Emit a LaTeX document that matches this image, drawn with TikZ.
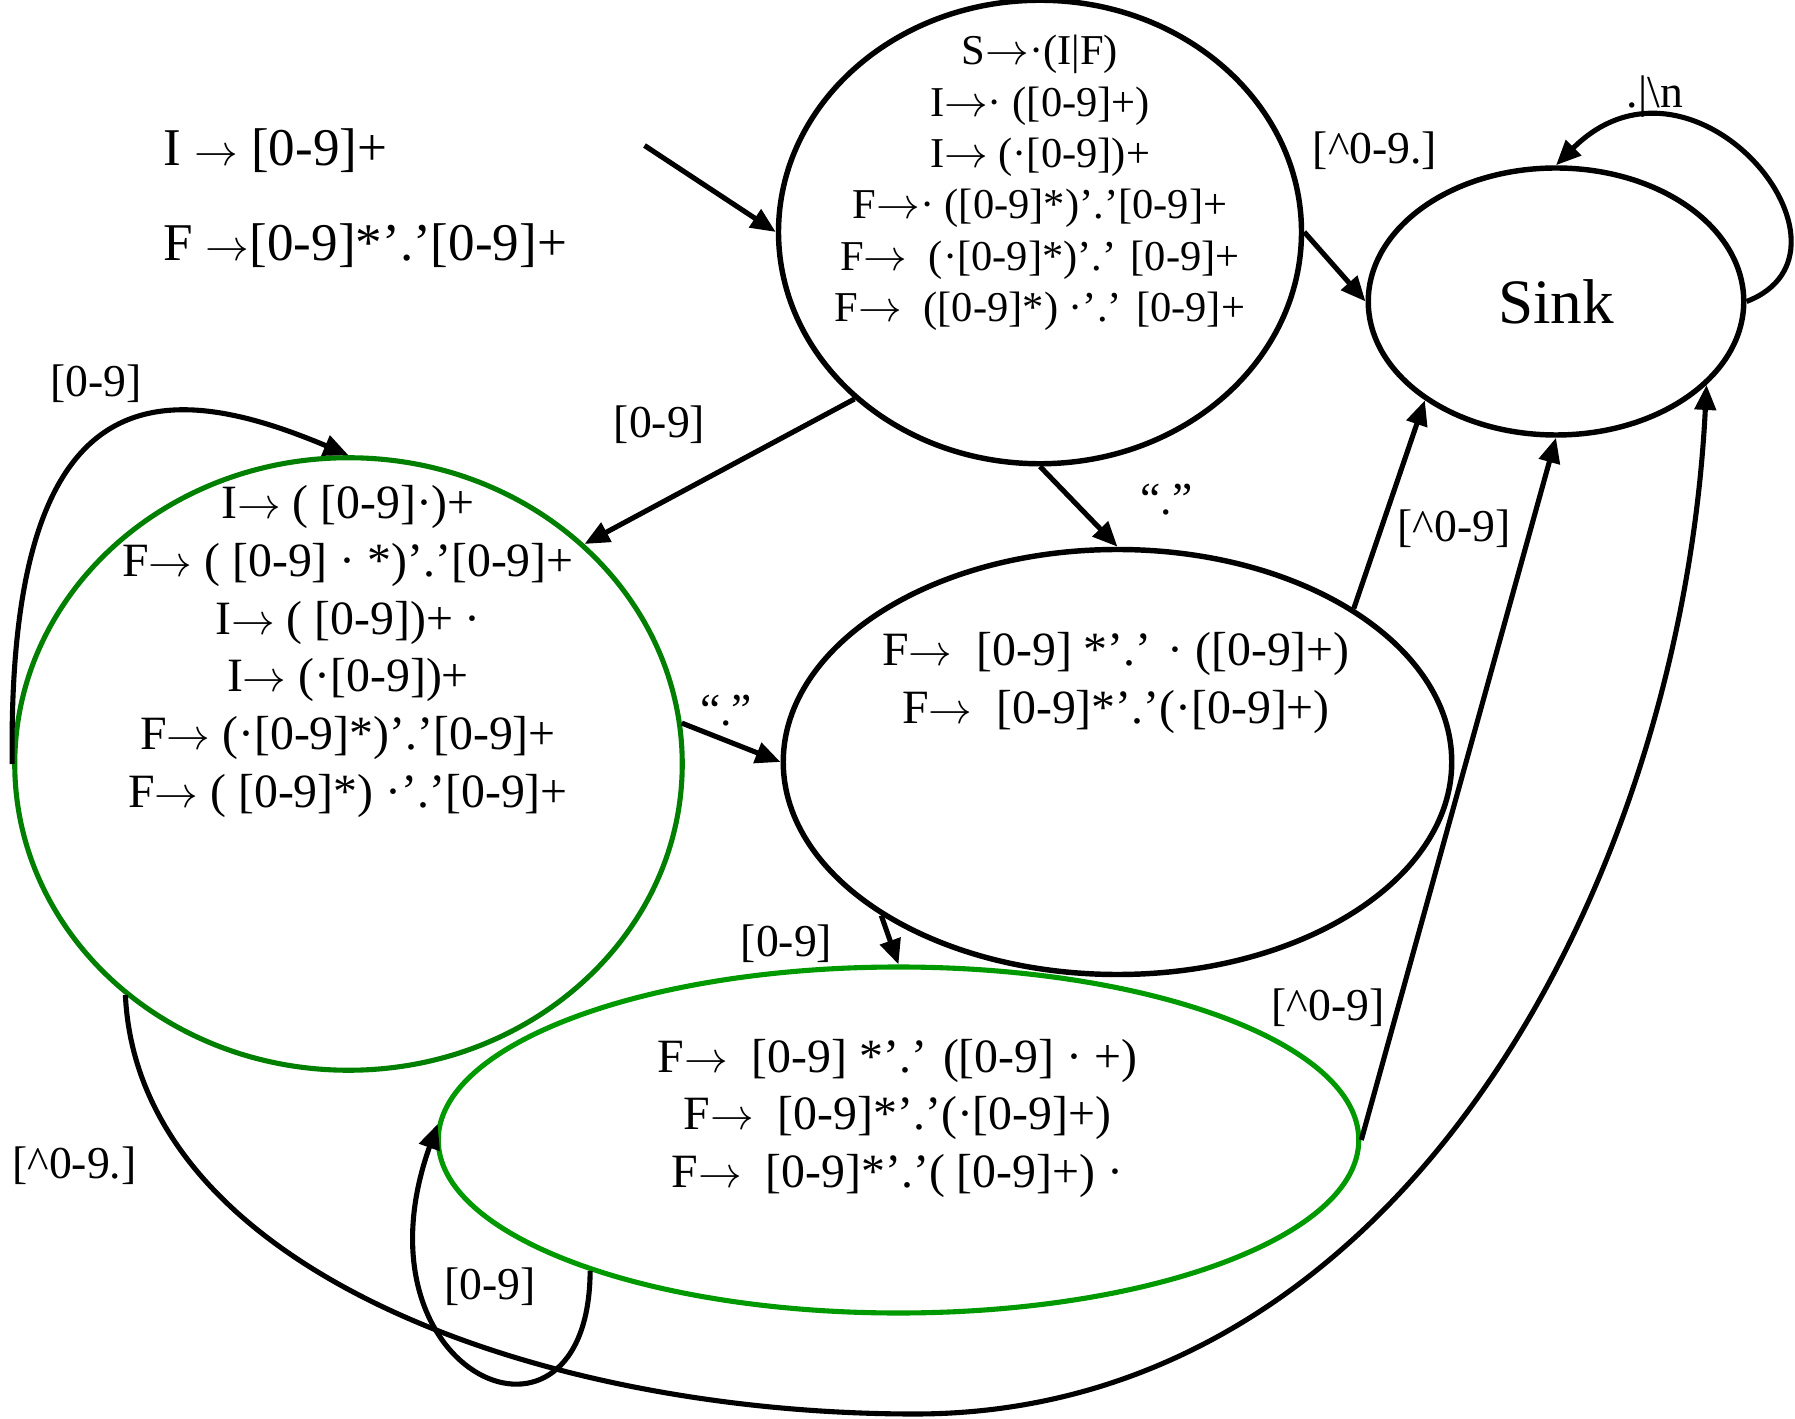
\documentclass[tikz,border=0pt]{standalone}
\usepackage{fontspec}
\setmainfont{Liberation Serif}
\usetikzlibrary{arrows.meta, positioning, shapes.geometric}
\definecolor{DeepGreen}{HTML}{007F00}
\definecolor{LeafGreen}{HTML}{009900}
\newcommand{\gto}{\ensuremath{\rightarrow}}

\begin{document}
\begin{tikzpicture}[
    state/.style={ellipse, draw=black, line width=3.1pt, inner sep=0pt},
    accstate/.style={ellipse, line width=2.9pt, inner sep=0pt},
    items/.style={align=center, font=\fontsize{27.2}{32.8}\selectfont},
    smallitems/.style={align=center, font=\fontsize{24.2}{29.2}\selectfont},
    rule/.style={anchor=west, font=\fontsize{30.2}{36}\selectfont},
    lbl/.style={font=\fontsize{26}{30}\selectfont, inner sep=0pt},
    arr/.style={-{Triangle[length=0.5cm, width=0.42cm]}, line width=2.9pt},
]
\useasboundingbox (0,0) rectangle (35.9,28.36);

% === Grammar ===
\node[rule] (gi) at (3.14, 25.34) {I \gto{} [0-9]+};
\node[rule] (gf) at (3.14, 23.44) {F \gto[0-9]*’.’[0-9]+};

% =============================================
% STATES
% =============================================
\node[state, minimum width=10.46cm, minimum height=9.27cm] (s0) at (20.8, 23.72) {};
\node[smallitems] (s0txt) at (20.8, 24.7)
    {S\gto·(I|F)\\I\gto· ([0-9]+)\\I\gto{} (·[0-9])+\\F\gto· ([0-9]*)’.’[0-9]+\\
    F\gto~ (·[0-9]*)’.’ [0-9]+\\F\gto~ ([0-9]*) ·’.’ [0-9]+};

\node[state, minimum width=7.51cm, minimum height=5.34cm,
    font=\fontsize{36}{40}\selectfont] (sink) at (31.12, 22.33) {Sink};

\node[accstate, draw=DeepGreen, minimum width=13.35cm, minimum height=12.25cm]
    (intst) at (6.97, 13.08) {};
\node[items] (intsttxt) at (6.96, 15.33)
    {I\gto{} ( [0-9]·)+\\F\gto{} ( [0-9] · *)’.’[0-9]+\\I\gto{} ( [0-9])+ ·\\
    I\gto{} (·[0-9])+\\F\gto{} (·[0-9]*)’.’[0-9]+\\F\gto{} ( [0-9]*) ·’.’[0-9]+};

\node[state, minimum width=13.37cm, minimum height=8.5cm] (dotst) at (22.35, 13.12) {};
\node[items] (dotsttxt) at (22.32, 14.7)
    {F\gto~ [0-9] *’.’ · ([0-9]+)\\F\gto~ [0-9]*’.’(·[0-9]+)};

\node[accstate, draw=LeafGreen, minimum width=18.41cm, minimum height=6.92cm]
    (fracst) at (17.97, 5.56) {};
\node[items] (fracsttxt) at (17.95, 5.99)
    {F\gto~ [0-9] *’.’ ([0-9] · +)\\F\gto~ [0-9]*’.’(·[0-9]+)\\
    F\gto~ [0-9]*’.’( [0-9]+) ·};

% =============================================
% TRANSITIONS
% =============================================
\coordinate (entry) at (12.89, 25.45);
\coordinate (lowbend) at (18.3, 0.08);

\draw[arr] (entry) -- (s0.west);
\draw[arr] (s0.222) -- (intst.43);
\draw[arr] (s0.east) -- (sink.west);
\draw[arr] (s0.south) -- (dotst.north);
\draw[arr] (intst.7) -- (dotst.west);
\draw[arr] (dotst.213) -- (fracst.north);
\draw[arr] (dotst.33) -- (sink.217);
\draw[arr] (fracst.east) -- (sink.south);

% loops
\draw[arr] (sink.east) .. controls +(2.6, 1.0) and +(2.75, 2.75) .. (sink.north);
\draw[arr] (intst.west) .. controls +(-0.1, 7.8) and +(-3.8, 1.6) .. (intst.north);
\draw[arr] (fracst.203) .. controls +(-0.02, -4.17) and +(-1.81, -5.08) .. (fracst.178);

% long way round to the sink
\draw[arr] (intst.226) .. controls +(0.26, -5.5) and +(-7.5, 0) .. (lowbend)
    .. controls +(9.7, 0) and +(-0.5, -10) .. (sink.-29);

% labels
\node[lbl] (l1) at (1.92, 20.69) {[0-9]};
\node[lbl] (l2) at (13.19, 19.87) {[0-9]};
\node[lbl] (l3) at (27.5, 25.34) {[\textasciicircum 0-9.]};
\node[lbl] (l4) at (33.1, 26.42) {.|\textbackslash n};
\node[lbl] (l5) at (23.33, 18.36) {“.”};
\node[lbl] (l6) at (14.52, 14.14) {“.”};
\node[lbl] (l7) at (29.08, 17.78) {[\textasciicircum 0-9]};
\node[lbl] (l8) at (15.73, 9.49) {[0-9]};
\node[lbl] (l9) at (26.56, 8.21) {[\textasciicircum 0-9]};
\node[lbl] (l10) at (1.49, 5.05) {[\textasciicircum 0-9.]};
\node[lbl] (l11) at (9.8, 2.62) {[0-9]};

\end{tikzpicture}
\end{document}
